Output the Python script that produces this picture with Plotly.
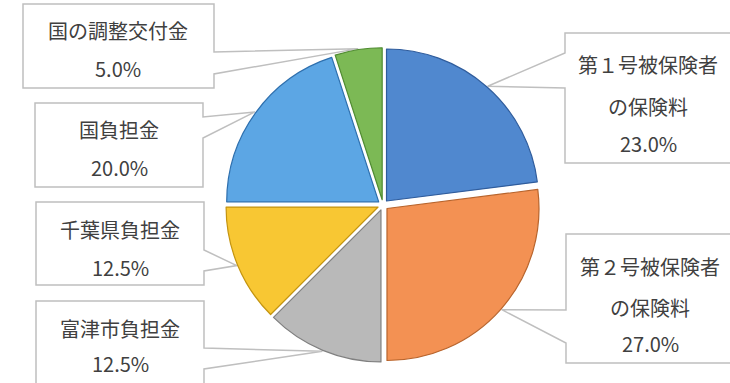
import plotly.graph_objects as go
import math

# ---- data ----
categories = ["第１号被保険者の保険料", "第２号被保険者の保険料", "富津市負担金",
              "千葉県負担金", "国負担金", "国の調整交付金"]
label_lines = [["第１号被保険者", "の保険料"], ["第２号被保険者", "の保険料"],
               ["富津市負担金"], ["千葉県負担金"], ["国負担金"], ["国の調整交付金"]]
values = [23.0, 27.0, 12.5, 12.5, 20.0, 5.0]
fill_colors = ["#5088cf", "#f39153", "#b9b9b9", "#f8c733", "#5ca6e4", "#7cb955"]
edge_colors = ["#2f5c9c", "#b8642c", "#808080", "#c4940f", "#2d6fae", "#4f8b31"]

W, H = 730, 383
CX, CY = 383, 205          # pie centre (px)
PULL = 0.035
R = 152                    # slice radius (px)
half = R * (1 + PULL)

def px(x):
    return x / W

def py(y):
    return 1 - y / H

fig = go.Figure()
fig.add_trace(go.Pie(
    labels=categories, values=values, sort=False, direction="clockwise",
    rotation=0, pull=[PULL] * len(values), textinfo="none", hoverinfo="label+percent",
    marker=dict(colors=fill_colors, line=dict(color=edge_colors, width=1.2)),
    domain=dict(x=[px(CX - half), px(CX + half)], y=[py(CY + half), py(CY - half)]),
    showlegend=False,
))

# callout boxes: (x0, y0, x1, y1, side of wedge, wedge base y0, y1, text x, text ys)
boxes = [
    (565, 33, 736, 163, "left", 53, 88, 648, [65, 107, 143]),
    (566, 234, 736, 363, "left", 310, 343, 650, [266, 307, 343]),
    (36, 301, 204, 390, "right", 348, 369, 120, [328, 363]),
    (36, 202, 204, 285, "right", 250, 271, 120, [229, 267]),
    (35, 103, 203, 187, "right", 117, 138, 119, [130, 167]),
    (23, 4, 214, 88, "right", 52, 74, 118, [31, 68]),
]

total = sum(values)
cum = 0.0
shapes = []
annotations = []
for i, v in enumerate(values):
    mid = (cum + v / 2) / total * 2 * math.pi
    cum += v
    rt = R * (1 + PULL) + 1
    tx = CX + rt * math.sin(mid)
    ty = CY - rt * math.cos(mid)
    x0, y0, x1, y1, side, b0, b1, txc, tys = boxes[i]
    if side == "right":
        pts = [(x0, y0), (x1, y0), (x1, b0), (tx, ty), (x1, b1), (x1, y1), (x0, y1)]
    else:
        pts = [(x0, y0), (x1, y0), (x1, y1), (x0, y1), (x0, b1), (tx, ty), (x0, b0)]
    path = "M " + " L ".join(f"{px(a):.5f},{py(b):.5f}" for a, b in pts) + " Z"
    shapes.append(dict(type="path", xref="paper", yref="paper", path=path,
                       fillcolor="white", line=dict(color="#bfbfbf", width=1.5),
                       layer="below"))
    lines = label_lines[i] + [f"{v:.1f}%"]
    for t, yy in zip(lines, tys):
        annotations.append(dict(x=px(txc), y=py(yy), xref="paper", yref="paper",
                                text=t, showarrow=False, xanchor="center", yanchor="middle",
                                font=dict(family="Noto Sans CJK JP", size=20, color="#404040")))

fig.update_layout(
    width=W, height=H, margin=dict(l=0, r=0, t=0, b=0),
    paper_bgcolor="white", plot_bgcolor="white",
    shapes=shapes, annotations=annotations,
)
fig.write_html("out.html")
